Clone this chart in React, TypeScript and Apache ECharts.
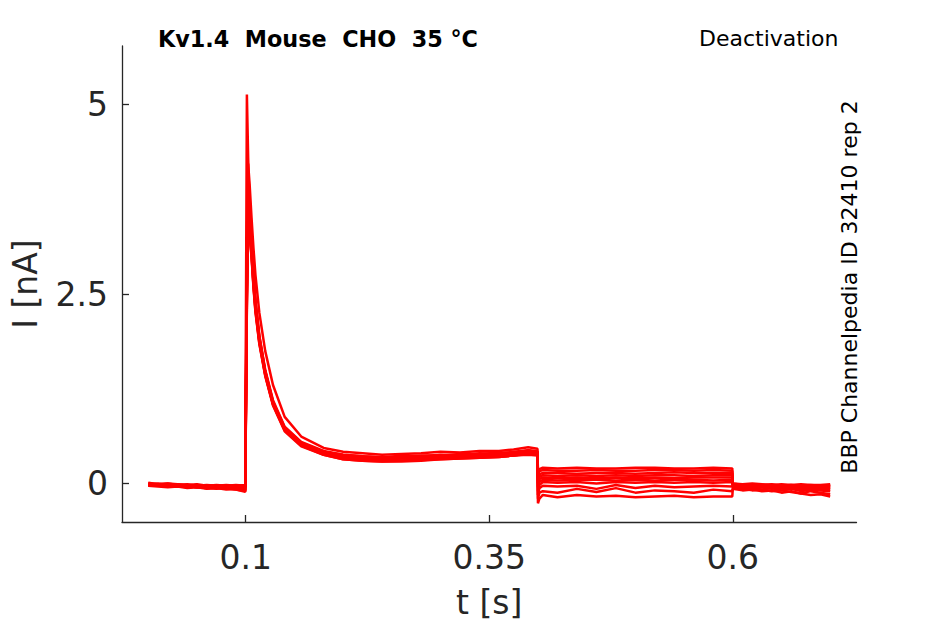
import React, { useEffect, useRef } from "react";
import * as echarts from "echarts";

// time bases (s) for the four protocol segments
const tBase = [0, 0.01, 0.02, 0.03, 0.04, 0.05, 0.06, 0.07, 0.08, 0.09, 0.0995];
const tAct = [0.1, 0.1012, 0.1025, 0.104, 0.106, 0.108, 0.11, 0.114, 0.12, 0.128, 0.14, 0.157, 0.18, 0.2, 0.22, 0.24, 0.26, 0.28, 0.3, 0.32, 0.34, 0.36, 0.375, 0.39, 0.3995];
const tDeact = [0.4, 0.4015, 0.405, 0.42, 0.44, 0.46, 0.48, 0.5, 0.52, 0.54, 0.56, 0.58, 0.5995];
const tPost = [0.6, 0.61, 0.62, 0.63, 0.64, 0.65, 0.66, 0.67, 0.68, 0.69, 0.7];

// current (nA) per trace, per segment
const base = [
  [0.0, -0.01, 0.0, -0.02, -0.01, -0.03, -0.02, -0.03, -0.02, -0.03, -0.02],
  [-0.01, 0.0, -0.02, -0.01, -0.03, -0.02, -0.04, -0.03, -0.05, -0.04, -0.05],
  [-0.02, -0.03, -0.01, -0.03, -0.02, -0.04, -0.03, -0.05, -0.04, -0.05, -0.04],
  [0.01, -0.01, 0.0, -0.01, -0.02, -0.01, -0.03, -0.02, -0.03, -0.02, -0.03],
  [-0.03, -0.04, -0.05, -0.04, -0.06, -0.05, -0.07, -0.06, -0.08, -0.07, -0.09],
  [-0.02, -0.02, -0.03, -0.04, -0.03, -0.05, -0.04, -0.06, -0.05, -0.07, -0.06],
  [0.0, -0.02, -0.01, -0.02, -0.03, -0.02, -0.04, -0.03, -0.04, -0.05, -0.04],
  [-0.01, -0.02, -0.03, -0.02, -0.04, -0.05, -0.06, -0.05, -0.07, -0.06, -0.08],
  [-0.03, -0.02, -0.04, -0.03, -0.05, -0.04, -0.06, -0.07, -0.06, -0.08, -0.1],
  [-0.02, -0.03, -0.02, -0.04, -0.03, -0.05, -0.06, -0.05, -0.07, -0.08, -0.11],
];
const act = [
  [-0.02, 5.13, 4.3, 3.6, 3.15, 2.72, 2.38, 1.92, 1.48, 1.07, 0.73, 0.53, 0.42, 0.38, 0.36, 0.34, 0.37, 0.36, 0.38, 0.37, 0.4, 0.39, 0.42, 0.44, 0.41],
  [-0.05, 3.2, 4.22, 3.95, 3.5, 3.1, 2.75, 2.25, 1.75, 1.3, 0.88, 0.62, 0.47, 0.42, 0.4, 0.38, 0.39, 0.4, 0.42, 0.41, 0.43, 0.43, 0.45, 0.48, 0.46],
  [-0.04, 2.9, 3.95, 3.62, 3.22, 2.78, 2.42, 1.95, 1.5, 1.1, 0.75, 0.55, 0.43, 0.38, 0.36, 0.35, 0.35, 0.37, 0.37, 0.39, 0.39, 0.41, 0.41, 0.43, 0.42],
  [-0.03, 2.8, 3.85, 3.55, 3.18, 2.75, 2.4, 1.94, 1.49, 1.08, 0.74, 0.54, 0.42, 0.37, 0.35, 0.34, 0.34, 0.35, 0.36, 0.37, 0.38, 0.39, 0.4, 0.42, 0.41],
  [-0.09, 2.7, 3.75, 3.5, 3.12, 2.7, 2.36, 1.9, 1.46, 1.06, 0.72, 0.52, 0.4, 0.35, 0.33, 0.32, 0.33, 0.33, 0.34, 0.36, 0.37, 0.38, 0.39, 0.41, 0.4],
  [-0.06, 2.6, 3.7, 3.45, 3.1, 2.68, 2.34, 1.9, 1.47, 1.07, 0.73, 0.53, 0.41, 0.36, 0.34, 0.33, 0.34, 0.34, 0.36, 0.36, 0.38, 0.39, 0.4, 0.43, 0.42],
  [-0.04, 2.5, 3.62, 3.4, 3.05, 2.65, 2.32, 1.88, 1.45, 1.05, 0.72, 0.52, 0.39, 0.34, 0.31, 0.31, 0.3, 0.32, 0.33, 0.34, 0.35, 0.36, 0.37, 0.39, 0.38],
  [-0.08, 2.45, 3.55, 3.35, 3.02, 2.62, 2.3, 1.87, 1.44, 1.05, 0.71, 0.51, 0.4, 0.35, 0.33, 0.33, 0.33, 0.34, 0.35, 0.37, 0.37, 0.39, 0.4, 0.44, 0.43],
  [-0.1, 2.4, 3.5, 3.3, 3.0, 2.6, 2.28, 1.85, 1.43, 1.04, 0.7, 0.5, 0.38, 0.32, 0.3, 0.29, 0.3, 0.31, 0.32, 0.33, 0.34, 0.35, 0.37, 0.38, 0.37],
  [-0.11, 2.35, 3.45, 3.28, 2.98, 2.58, 2.26, 1.84, 1.42, 1.03, 0.69, 0.49, 0.38, 0.32, 0.3, 0.29, 0.29, 0.3, 0.32, 0.33, 0.34, 0.35, 0.37, 0.4, 0.39],
];
const deact = [
  [0.16, 0.19, 0.21, 0.2, 0.21, 0.2, 0.2, 0.21, 0.21, 0.2, 0.2, 0.21, 0.2],
  [0.12, 0.16, 0.18, 0.17, 0.17, 0.18, 0.17, 0.17, 0.18, 0.18, 0.17, 0.18, 0.17],
  [0.08, 0.12, 0.14, 0.14, 0.13, 0.14, 0.14, 0.13, 0.14, 0.15, 0.14, 0.14, 0.14],
  [0.04, 0.09, 0.11, 0.1, 0.11, 0.1, 0.11, 0.1, 0.11, 0.11, 0.1, 0.11, 0.11],
  [0.0, 0.06, 0.08, 0.07, 0.08, 0.07, 0.08, 0.07, 0.08, 0.07, 0.08, 0.08, 0.08],
  [-0.05, 0.02, 0.05, 0.04, 0.05, 0.05, 0.04, 0.05, 0.04, 0.05, 0.05, 0.04, 0.05],
  [-0.1, -0.02, 0.02, 0.01, 0.02, 0.0, 0.02, 0.01, 0.02, 0.01, 0.02, 0.01, 0.02],
  [-0.15, -0.06, -0.03, -0.04, -0.03, -0.07, -0.02, -0.06, -0.03, -0.05, -0.04, -0.03, -0.04],
  [-0.2, -0.12, -0.1, -0.12, -0.07, -0.11, -0.06, -0.12, -0.09, -0.1, -0.12, -0.08, -0.1],
  [-0.26, -0.2, -0.15, -0.18, -0.15, -0.17, -0.16, -0.18, -0.17, -0.16, -0.18, -0.17, -0.17],
];
const post = [
  [0.0, -0.01, 0.0, -0.01, -0.02, -0.01, -0.02, -0.01, -0.02, -0.02, -0.01],
  [-0.01, -0.02, -0.01, -0.02, -0.01, -0.03, -0.02, -0.03, -0.02, -0.03, -0.02],
  [-0.02, -0.03, -0.02, -0.03, -0.04, -0.03, -0.04, -0.03, -0.04, -0.03, -0.04],
  [0.0, -0.02, -0.01, -0.03, -0.02, -0.03, -0.02, -0.04, -0.03, -0.04, -0.03],
  [-0.03, -0.04, -0.05, -0.04, -0.05, -0.06, -0.05, -0.06, -0.05, -0.07, -0.06],
  [-0.02, -0.04, -0.03, -0.05, -0.04, -0.05, -0.06, -0.05, -0.06, -0.05, -0.06],
  [-0.04, -0.05, -0.06, -0.05, -0.07, -0.06, -0.07, -0.08, -0.07, -0.08, -0.08],
  [-0.05, -0.06, -0.05, -0.08, -0.06, -0.09, -0.07, -0.1, -0.08, -0.09, -0.1],
  [-0.06, -0.07, -0.09, -0.08, -0.1, -0.09, -0.11, -0.13, -0.1, -0.12, -0.14],
  [-0.07, -0.09, -0.08, -0.1, -0.09, -0.12, -0.1, -0.13, -0.15, -0.14, -0.17],
];

const xTicks = [0.1, 0.35, 0.6];
const yTicks = [0, 2.5, 5];
const titleText = "Kv1.4  Mouse  CHO  35 °C";
const protocolText = "Deactivation";
const sourceText = "BBP Channelpedia ID 32410 rep 2";

const FONT = "DejaVu Sans";
const AXIS_COLOR = "#262626";

function zip(ts: number[], vs: number[]) {
  return ts.map((t, i) => [t, vs[i]]);
}

export default function App() {
  const ref = useRef<HTMLDivElement>(null);
  useEffect(() => {
    if (!ref.current) return;
    const chart = echarts.init(ref.current, undefined, { renderer: "svg" });
    const series = base.map((_, k) => ({
      type: "line",
      showSymbol: false,
      silent: true,
      data: [
        ...zip(tBase, base[k]),
        ...zip(tAct, act[k]),
        ...zip(tDeact, deact[k]),
        ...zip(tPost, post[k]),
      ],
      lineStyle: { color: "#ff0000", width: 2.5 },
      itemStyle: { color: "#ff0000" },
    }));
    chart.setOption({
      animation: false,
      backgroundColor: "#ffffff",
      title: [
        {
          text: titleText,
          left: 153,
          top: 23,
          textStyle: { fontFamily: FONT, fontSize: 22.3, fontWeight: "bold", color: "#000" },
        },
        {
          text: protocolText,
          left: 694,
          top: 22,
          textStyle: { fontFamily: FONT, fontSize: 22, fontWeight: "normal", color: "#000" },
        },
      ],
      graphic: [
        {
          type: "text",
          x: 849,
          y: 287,
          rotation: Math.PI / 2,
          style: {
            text: sourceText,
            fontFamily: FONT,
            fontSize: 22,
            fill: "#000",
            align: "center",
            verticalAlign: "middle",
          },
        },
      ],
      grid: { left: 122, right: 88.5, top: 46, bottom: 97.5, containLabel: false },
      xAxis: {
        type: "value",
        min: -0.027,
        max: 0.727,
        name: "t [s]",
        nameLocation: "middle",
        nameGap: 64,
        nameTextStyle: { fontFamily: FONT, fontSize: 33, color: AXIS_COLOR },
        axisLine: { show: true, onZero: false, lineStyle: { color: AXIS_COLOR, width: 1.3 } },
        axisTick: { show: true, inside: true, length: 7, customValues: xTicks, lineStyle: { color: AXIS_COLOR, width: 1.3 } },
        axisLabel: {
          customValues: xTicks,
          margin: 19,
          fontFamily: FONT,
          fontSize: 33,
          color: AXIS_COLOR,
          formatter: (v: number) => String(v),
        },
        splitLine: { show: false },
      },
      yAxis: {
        type: "value",
        min: -0.507,
        max: 5.771,
        name: "I [nA]",
        nameLocation: "middle",
        nameGap: 80,
        nameTextStyle: { fontFamily: FONT, fontSize: 33, color: AXIS_COLOR },
        axisLine: { show: true, onZero: false, lineStyle: { color: AXIS_COLOR, width: 1.3 } },
        axisTick: { show: true, inside: true, length: 7, customValues: yTicks, lineStyle: { color: AXIS_COLOR, width: 1.3 } },
        axisLabel: {
          customValues: yTicks,
          margin: 14,
          fontFamily: FONT,
          fontSize: 33,
          color: AXIS_COLOR,
          formatter: (v: number) => String(v),
        },
        splitLine: { show: false },
      },
      series,
    });
    return () => chart.dispose();
  }, []);
  return (
    <div
      ref={ref}
      style={{ position: "fixed", left: 0, top: 0, width: 945, height: 624, background: "#fff" }}
    />
  );
}
